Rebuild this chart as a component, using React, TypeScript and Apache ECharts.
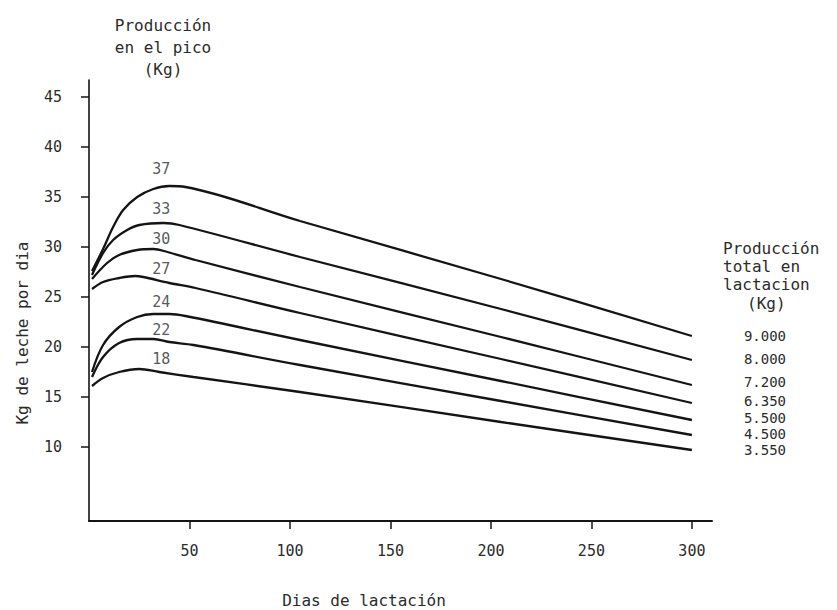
import React, { useEffect, useRef } from "react";
import * as echarts from "echarts";

// Days in lactation vs kg of milk per day, one curve per peak production level
const curve37 = [[1.5, 27.6], [7, 29.8], [12, 32.0], [17, 33.7], [24, 35.0], [32, 35.8], [40, 36.1], [48, 36.0], [105, 32.6], [205, 26.8], [300, 21.1]];
const curve33 = [[1.5, 27.2], [7, 29.4], [12, 30.7], [19, 31.7], [25, 32.2], [37, 32.4], [45, 32.2], [105, 29.0], [205, 23.8], [300, 18.7]];
const curve30 = [[1.5, 26.8], [9, 28.4], [15, 29.2], [24, 29.7], [32, 29.8], [39, 29.5], [53, 28.7], [105, 26.0], [205, 21.0], [300, 16.2]];
const curve27 = [[1.5, 25.8], [7, 26.5], [15, 26.9], [23, 27.1], [27, 27.0], [40, 26.4], [53, 25.9], [105, 23.4], [205, 18.8], [300, 14.4]];
const curve24 = [[1.5, 17.5], [7, 20.2], [15, 22.0], [24, 23.0], [32, 23.3], [40, 23.3], [48, 23.1], [105, 20.7], [205, 16.6], [300, 12.7]];
const curve22 = [[1.5, 17.0], [7, 19.0], [15, 20.4], [24, 20.8], [32, 20.8], [40, 20.5], [52, 20.2], [105, 18.2], [205, 14.6], [300, 11.2]];
const curve18 = [[1.5, 16.1], [7, 16.9], [15, 17.5], [25, 17.8], [35, 17.5], [52, 17.0], [105, 15.5], [205, 12.5], [300, 9.7]];

const curves = [curve37, curve33, curve30, curve27, curve24, curve22, curve18];
const peakKg = [37, 33, 30, 27, 24, 22, 18];
const peakLabels = ["37", "33", "30", "27", "24", "22", "18"];
const peakLabelDay = 36;
const totalLabels = ["9.000", "8.000", "7.200", "6.350", "5.500", "4.500", "3.550"];

const xTicks = [50, 100, 150, 200, 250, 300];
const yTicks = [10, 15, 20, 25, 30, 35, 40, 45];

const peakTitle = ["Producción", "en el pico", "(Kg)"];
const totalTitle = ["Producción", "total en", "lactacion"];
const totalUnit = "(Kg)";
const xTitle = "Dias de lactación";
const yTitle = "Kg de leche por dia";

const FONT = "DejaVu Sans Mono";
const TXT = "#2b2b2b";
const INK = "#141414";
// small vertical nudges (px) so crowded labels sit as in the original drawing
const endLabelNudge = [0, -1, -3, -2, -2, -1, 0];
const peakLabelNudge = [0, 0, 0, 0, 3, 11, 0];

export default function App() {
  const ref = useRef<HTMLDivElement>(null);
  useEffect(() => {
    if (!ref.current) return;
    const chart = echarts.init(ref.current, undefined, { renderer: "svg" });
    const lineSeries = curves.map((c, i) => ({
      type: "line",
      data: c,
      smooth: 0.35,
      symbol: "none",
      silent: true,
      lineStyle: { color: INK, width: 2.3 },
      endLabel: {
        show: true,
        formatter: () => totalLabels[i],
        distance: 52,
        offset: [0, endLabelNudge[i]],
        color: TXT,
        fontFamily: FONT,
        fontSize: 14,
        lineHeight: 14,
      },
    }));
    const textStyle = { fill: TXT, fontFamily: FONT, fontSize: 16 };
    const graphic: any[] = [];
    peakTitle.forEach((t, i) =>
      graphic.push({ type: "text", x: 163, y: 25 + i * 22, style: { ...textStyle, text: t, align: "center", verticalAlign: "middle" } })
    );
    totalTitle.forEach((t, i) =>
      graphic.push({ type: "text", x: 723, y: 248 + i * 18, style: { ...textStyle, text: t, align: "left", verticalAlign: "middle" } })
    );
    graphic.push({ type: "text", x: 747, y: 303, style: { ...textStyle, text: totalUnit, align: "left", verticalAlign: "middle" } });
    graphic.push({ type: "text", x: 364, y: 600, style: { ...textStyle, text: xTitle, align: "center", verticalAlign: "middle" } });
    graphic.push({ type: "text", x: 22, y: 333, rotation: Math.PI / 2, style: { ...textStyle, text: yTitle, align: "center", verticalAlign: "middle" } });

    chart.setOption({
      animation: false,
      backgroundColor: "#ffffff",
      grid: { left: 89, right: 125, top: 80, bottom: 89 },
      xAxis: {
        type: "value",
        min: 0,
        max: 310,
        axisLine: { show: true, lineStyle: { color: INK, width: 2 } },
        axisTick: { show: true, length: 8, customValues: xTicks, lineStyle: { color: INK, width: 1.5 } },
        axisLabel: { customValues: xTicks, margin: 22, color: TXT, fontFamily: FONT, fontSize: 15 },
        splitLine: { show: false },
      },
      yAxis: {
        type: "value",
        min: 2.6,
        max: 46.7,
        axisLine: { show: true, lineStyle: { color: INK, width: 1.6 } },
        axisTick: { show: true, length: 8, customValues: yTicks, lineStyle: { color: INK, width: 1.5 } },
        axisLabel: { customValues: yTicks, margin: 27, color: TXT, fontFamily: FONT, fontSize: 15 },
        splitLine: { show: false },
      },
      series: [
        ...lineSeries,
        {
          type: "scatter",
          silent: true,
          symbolSize: 1,
          itemStyle: { color: "rgba(0,0,0,0)" },
          data: peakKg.map((v, i) => ({
            value: [peakLabelDay, v],
            label: { offset: [0, peakLabelNudge[i]] },
          })),
          label: {
            show: true,
            position: "top",
            distance: 0,
            formatter: (p: any) => peakLabels[p.dataIndex],
            color: TXT,
            fontFamily: FONT,
            fontSize: 15,
          },
        },
      ],
      graphic,
    });
    return () => chart.dispose();
  }, []);
  return <div ref={ref} style={{ width: 837, height: 610, position: "absolute", left: 0, top: 0 }} />;
}
